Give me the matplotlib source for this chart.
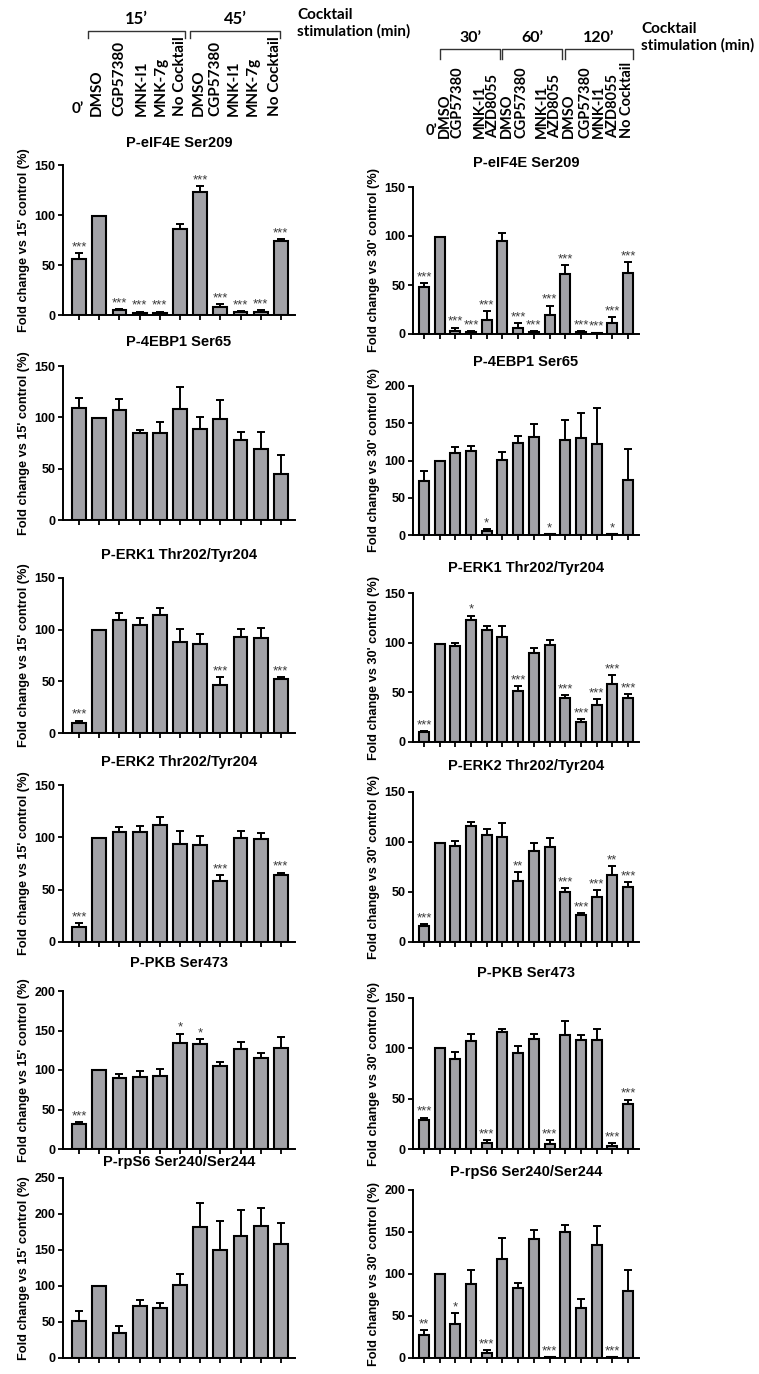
import matplotlib
matplotlib.use("Agg")
from matplotlib import pyplot as plt
from matplotlib.lines import Line2D
import numpy as np

W, H = 759, 1374

# ---- data: left column (15' / 45' experiment) ----
left_groups = ["15\u2019", "45\u2019"]
left_conditions = ["DMSO", "CGP57380", "MNK-I1", "MNK-7g", "No Cocktail",
                   "DMSO", "CGP57380", "MNK-I1", "MNK-7g", "No Cocktail"]

L_eif_mean = [56, 99, 5, 2.5, 2.5, 86, 123, 8, 3, 3, 74]
L_eif_err = [6, 0, 1, 1, 1, 5, 6, 3, 1, 2, 2]
L_eif_sig = ["***", "", "***", "***", "***", "", "***", "***", "***", "***", "***"]

L_4ebp_mean = [109, 99, 107, 85, 85, 108, 89, 98, 78, 69, 45]
L_4ebp_err = [10, 0, 11, 3, 10, 22, 11, 19, 8, 17, 18]
L_4ebp_sig = [""] * 11

L_erk1_mean = [10, 100, 109, 105, 114, 88, 86, 46, 93, 92, 52]
L_erk1_err = [2, 0, 7, 6, 7, 13, 10, 8, 8, 10, 2]
L_erk1_sig = ["***", "", "", "", "", "", "", "***", "", "", "***"]

L_erk2_mean = [14, 99, 105, 105, 112, 94, 93, 58, 99, 98, 64]
L_erk2_err = [4, 0, 5, 6, 7, 12, 8, 6, 7, 6, 2]
L_erk2_sig = ["***", "", "", "", "", "", "", "***", "", "", "***"]

L_pkb_mean = [32, 100, 90, 91, 93, 134, 133, 105, 126, 115, 128]
L_pkb_err = [2, 0, 5, 8, 8, 12, 6, 5, 10, 7, 14]
L_pkb_sig = ["***", "", "", "", "", "*", "*", "", "", "", ""]

L_rps6_mean = [52, 100, 35, 72, 70, 102, 182, 150, 170, 183, 159]
L_rps6_err = [13, 0, 10, 8, 7, 14, 33, 40, 35, 25, 28]
L_rps6_sig = [""] * 11

# ---- data: right column (30' / 60' / 120' experiment) ----
right_groups = ["30\u2019", "60\u2019", "120\u2019"]
right_conditions = ["DMSO", "CGP57380", "MNK-I1", "AZD8055",
                    "DMSO", "CGP57380", "MNK-I1", "AZD8055",
                    "DMSO", "CGP57380", "MNK-I1", "AZD8055", "No Cocktail"]

R_eif_mean = [48, 99, 3.5, 2, 14, 95, 6, 2, 19, 61, 2, 1, 11, 62]
R_eif_err = [4, 0, 3, 1, 9, 8, 5, 1, 10, 9, 1, 0.5, 6, 11]
R_eif_sig = ["***", "", "***", "***", "***", "", "***", "***", "***", "***", "***", "***", "***", "***"]

R_4ebp_mean = [73, 99, 110, 113, 5, 101, 123, 131, 1, 128, 130, 122, 1, 74]
R_4ebp_err = [13, 0, 8, 6, 3, 10, 10, 18, 0, 27, 34, 48, 0, 42]
R_4ebp_sig = ["", "", "", "", "*", "", "", "", "*", "", "", "", "*", ""]

R_erk1_mean = [10, 99, 97, 123, 113, 106, 51, 90, 98, 44, 20, 37, 58, 44]
R_erk1_err = [1, 0, 3, 4, 4, 11, 5, 5, 5, 3, 3, 6, 9, 4]
R_erk1_sig = ["***", "", "", "*", "", "", "***", "", "", "***", "***", "***", "***", "***"]

R_erk2_mean = [16, 99, 96, 116, 107, 105, 61, 91, 95, 50, 27, 45, 67, 55]
R_erk2_err = [2, 0, 5, 4, 6, 14, 9, 8, 9, 4, 2, 7, 9, 5]
R_erk2_sig = ["***", "", "", "", "", "", "**", "", "", "***", "***", "***", "**", "***"]

R_pkb_mean = [29, 100, 89, 107, 6, 116, 95, 109, 5, 113, 108, 108, 3, 45]
R_pkb_err = [2, 0, 7, 7, 3, 3, 7, 5, 4, 14, 5, 11, 3, 4]
R_pkb_sig = ["***", "", "", "", "***", "", "", "", "***", "", "", "", "***", "***"]

R_rps6_mean = [27, 100, 40, 88, 6, 118, 83, 142, 1, 150, 60, 135, 1, 80]
R_rps6_err = [6, 0, 13, 17, 3, 25, 6, 10, 0, 8, 10, 22, 0, 25]
R_rps6_sig = ["**", "", "*", "", "***", "", "", "", "***", "", "", "", "***", ""]

titles = ["P-eIF4E Ser209", "P-4EBP1 Ser65", "P-ERK1 Thr202/Tyr204",
          "P-ERK2 Thr202/Tyr204", "P-PKB Ser473", "P-rpS6 Ser240/Ser244"]

left_panels = [
    (L_eif_mean, L_eif_err, L_eif_sig, 150),
    (L_4ebp_mean, L_4ebp_err, L_4ebp_sig, 150),
    (L_erk1_mean, L_erk1_err, L_erk1_sig, 150),
    (L_erk2_mean, L_erk2_err, L_erk2_sig, 150),
    (L_pkb_mean, L_pkb_err, L_pkb_sig, 200),
    (L_rps6_mean, L_rps6_err, L_rps6_sig, 250),
]
right_panels = [
    (R_eif_mean, R_eif_err, R_eif_sig, 150),
    (R_4ebp_mean, R_4ebp_err, R_4ebp_sig, 200),
    (R_erk1_mean, R_erk1_err, R_erk1_sig, 150),
    (R_erk2_mean, R_erk2_err, R_erk2_sig, 150),
    (R_pkb_mean, R_pkb_err, R_pkb_sig, 150),
    (R_rps6_mean, R_rps6_err, R_rps6_sig, 200),
]

# ---- layout (pixels) ----
left_x = (63, 295)
right_x = (413, 639)
left_y = [(165, 315), (366, 520), (578, 733), (785, 942), (991, 1149), (1178, 1358)]
right_y = [(187, 334), (386, 535), (593, 742), (792, 942), (998, 1149), (1190, 1358)]
left_title_y = [143, 342, 555, 762, 963, 1162]
right_title_y = [163, 362, 568, 766, 973, 1172]

BAR = "#a2a2a7"
ARIAL = "Liberation Sans"
HEAD = "Lato"

fig = plt.figure(figsize=(W / 100, H / 100), dpi=100)


def fx(x):
    return x / W


def fy(y):
    return 1 - y / H


def panel(xr, yr, data, title, title_y, ylabel, ylab_x, xpad, bw):
    mean, err, sig, ymax = data
    ax = fig.add_axes([fx(xr[0]), fy(yr[1]), fx(xr[1] - xr[0]), (yr[1] - yr[0]) / H])
    x = np.arange(len(mean))
    ax.bar(x, mean, width=bw, color=BAR, edgecolor="black", linewidth=1.5, zorder=2)
    ax.errorbar(x, mean, yerr=[np.zeros(len(err)), err], fmt="none", ecolor="black",
                elinewidth=1.4, capsize=2.8, capthick=1.4, zorder=1)
    for i, s in enumerate(sig):
        if s:
            ax.annotate(s, (x[i], mean[i] + err[i]), xytext=(0, 0), textcoords="offset points",
                        ha="center", va="bottom", fontsize=9.5, color="#3a3a3a", family=ARIAL)
    ax.set_xlim(-xpad[0], len(mean) - 1 + xpad[1])
    ax.set_ylim(0, ymax)
    ax.set_yticks(np.arange(0, ymax + 1, 50))
    ax.set_xticks(x)
    ax.set_xticklabels([])
    for sp in ["top", "right"]:
        ax.spines[sp].set_visible(False)
    for sp in ["left", "bottom"]:
        ax.spines[sp].set_linewidth(1.4)
    ax.tick_params(axis="both", direction="out", length=3.5, width=1.3, labelsize=9)
    ax.tick_params(axis="y", pad=2)
    for lab in ax.get_yticklabels():
        lab.set_fontweight("bold")
        lab.set_family(ARIAL)
    fig.text(fx((xr[0] + xr[1]) / 2), fy(title_y), title, ha="center", va="center",
             fontsize=10.5, fontweight="bold", family=ARIAL)
    fig.text(fx(ylab_x), fy((yr[0] + yr[1]) / 2), ylabel, rotation=90, ha="center",
             va="center", fontsize=9.2, fontweight="bold", family=ARIAL)
    return ax


for i in range(6):
    panel(left_x, left_y[i], left_panels[i], titles[i], left_title_y[i],
          "Fold change vs 15' control (%)", 24, (0.8, 0.7), 0.68)
    panel(right_x, right_y[i], right_panels[i], titles[i], right_title_y[i],
          "Fold change vs 30' control (%)", 374, (0.7, 0.7), 0.64)

# ---- header: left ----
left_lab_x = [97, 119, 142, 161, 180, 199, 215, 234, 253, 275]
for xx, name in zip(left_lab_x, left_conditions):
    fig.text(fx(xx), fy(116), name, rotation=90, ha="center", va="bottom",
             fontsize=11, fontweight="bold", family=HEAD)
fig.text(fx(78), fy(116), "0\u2019", ha="center", va="bottom", fontsize=11,
         fontweight="bold", family=HEAD)
for (x0, x1), g in zip([(88, 185), (190, 280)], left_groups):
    fig.add_artist(Line2D([fx(x0), fx(x0), fx(x1), fx(x1)], [fy(38), fy(31), fy(31), fy(38)],
                          color="#333333", lw=1.0))
    fig.text(fx((x0 + x1) / 2), fy(27), g, ha="center", va="bottom", fontsize=12,
             fontweight="bold", family=HEAD)
fig.text(fx(297), fy(23), "Cocktail\nstimulation (min)", ha="left", va="center",
         fontsize=11, fontweight="bold", family=HEAD, linespacing=1.2)

# ---- header: right ----
right_lab_x = [445, 458, 480, 493, 507, 521, 542, 555, 569, 585, 599, 613, 627]
for xx, name in zip(right_lab_x, right_conditions):
    fig.text(fx(xx), fy(138), name, rotation=90, ha="center", va="bottom",
             fontsize=10.5, fontweight="bold", family=HEAD)
fig.text(fx(431), fy(138), "0\u2019", ha="center", va="bottom", fontsize=10.5,
         fontweight="bold", family=HEAD)
for (x0, x1), g in zip([(440, 500), (502, 562), (565, 633)], right_groups):
    fig.add_artist(Line2D([fx(x0), fx(x0), fx(x1), fx(x1)], [fy(59), fy(49), fy(49), fy(59)],
                          color="#333333", lw=1.0))
    fig.text(fx((x0 + x1) / 2), fy(45), g, ha="center", va="bottom", fontsize=11.5,
             fontweight="bold", family=HEAD)
fig.text(fx(641), fy(37), "Cocktail\nstimulation (min)", ha="left", va="center",
         fontsize=11, fontweight="bold", family=HEAD, linespacing=1.2)

fig.savefig("out.png", dpi=100)
